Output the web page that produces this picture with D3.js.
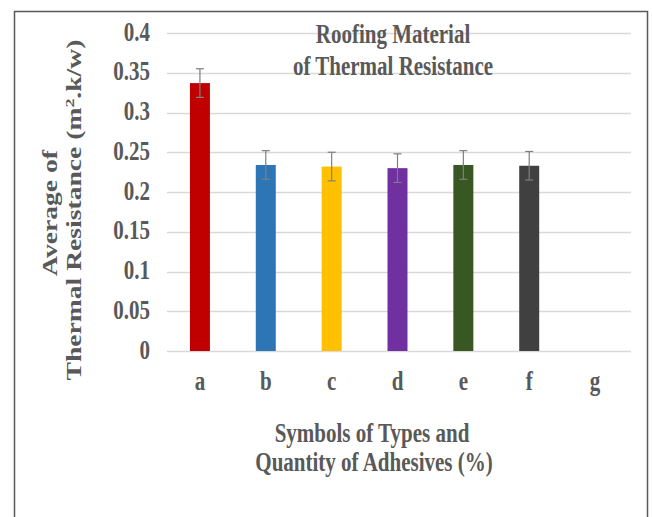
<!DOCTYPE html>
<html>
<head>
<meta charset="utf-8">
<script src="https://cdn.jsdelivr.net/npm/d3@7"></script>
<style>
  body { margin: 0; background: #fff; }
  text { font-family: "Liberation Serif", "Times New Roman", serif; font-weight: bold; fill: #595959; }
</style>
</head>
<body>
<svg class="chart" width="652" height="517"></svg>
<script>
// data
var categories = ["a", "b", "c", "d", "e", "f", "g"];
var means = [0.337, 0.234, 0.232, 0.230, 0.234, 0.233, 0];
var errors = [0.018, 0.018, 0.018, 0.018, 0.018, 0.018, 0];
var colors = ["#c00000", "#2e75b6", "#ffc000", "#7030a0", "#385723", "#404040", "#a5a5a5"];
var yTicks = [0, 0.05, 0.1, 0.15, 0.2, 0.25, 0.3, 0.35, 0.4];
var titleLines = ["Roofing Material", "of Thermal Resistance"];
var xTitleLines = ["Symbols of Types and", "Quantity of Adhesives (%)"];

var svg = d3.select(".chart");
var stretch = 1.25;   // the picture text is a bit tall

// outer frame
svg.append("rect")
    .attr("x", 14.5).attr("y", 11.5)
    .attr("width", 633).attr("height", 520)
    .attr("fill", "none")
    .attr("stroke", "#595959")
    .attr("stroke-width", 1.5);

var xScale = d3.scaleBand().domain(categories).range([167, 628]);
var yScale = d3.scaleLinear().domain([0, 0.4]).range([351, 33]);

function label(txt, x, y, size, anchor) {
    return svg.append("text")
        .attr("transform", "translate(" + x + "," + y + ") scale(1," + stretch + ")")
        .attr("text-anchor", anchor || "middle")
        .style("font-size", size + "px")
        .text(txt);
}

// gridlines
svg.append("g").selectAll("line")
    .data(yTicks).enter()
    .append("line")
    .attr("x1", xScale.range()[0])
    .attr("x2", xScale.range()[1] + 3)
    .attr("y1", function (d) { return Math.round(yScale(d)) + 0.5; })
    .attr("y2", function (d) { return Math.round(yScale(d)) + 0.5; })
    .attr("stroke", "#d9d9d9")
    .attr("stroke-width", 1.3);

// y tick labels
yTicks.forEach(function (t) {
    label(String(t), 150, yScale(t) + 7.5, 21, "end");
});

// bars
var barW = 20;
svg.append("g").selectAll("rect")
    .data(means).enter()
    .append("rect")
    .attr("x", function (d, i) { return xScale(categories[i]) + xScale.bandwidth() / 2 - barW / 2; })
    .attr("y", function (d) { return yScale(d); })
    .attr("width", barW)
    .attr("height", function (d) { return yScale(0) - yScale(d); })
    .attr("fill", function (d, i) { return colors[i]; });

// error bars
var eb = svg.append("g").attr("stroke", "#7f7f7f").attr("stroke-width", 1.2);
means.forEach(function (m, i) {
    if (!errors[i]) return;
    var cx = xScale(categories[i]) + xScale.bandwidth() / 2;
    var y1 = yScale(m + errors[i]), y2 = yScale(m - errors[i]);
    eb.append("line").attr("x1", cx).attr("x2", cx).attr("y1", y1).attr("y2", y2);
    eb.append("line").attr("x1", cx - 4).attr("x2", cx + 4).attr("y1", y1).attr("y2", y1);
    eb.append("line").attr("x1", cx - 4).attr("x2", cx + 4).attr("y1", y2).attr("y2", y2);
});

// x labels
categories.forEach(function (c) {
    label(c, xScale(c) + xScale.bandwidth() / 2, 390, 21);
});

// chart title
label(titleLines[0], 393, 43, 21);
label(titleLines[1], 393, 75, 21);

// x axis title
label(xTitleLines[0], 372, 442, 21);
label(xTitleLines[1], 374, 471, 21);

// y axis title, rotated and spread along its length
var ys = 1.38;
svg.append("text")
    .attr("transform", "translate(57,213) rotate(-90) scale(" + ys + ",1)")
    .attr("text-anchor", "middle")
    .style("font-size", "20px")
    .text("Average of");

var yt2 = svg.append("text")
    .attr("transform", "translate(81,210) rotate(-90) scale(" + ys + ",1)")
    .attr("text-anchor", "middle")
    .style("font-size", "20px");
yt2.append("tspan").text("Thermal Resistance (m");
yt2.append("tspan").attr("dy", -7).style("font-size", "13px").text("2");
yt2.append("tspan").attr("dy", 7).text(".k/w)");
</script>
</body>
</html>
